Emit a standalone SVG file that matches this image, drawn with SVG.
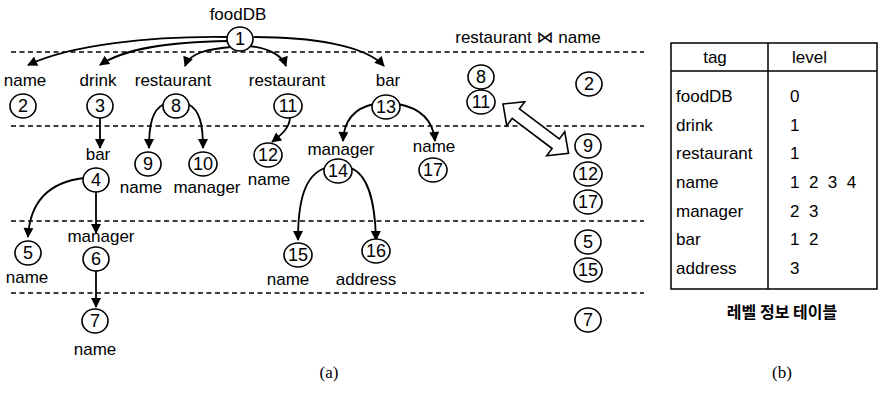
<svg xmlns="http://www.w3.org/2000/svg" width="879" height="394" viewBox="0 0 879 394">
  <style>
    text { font-family: "Liberation Sans", "DejaVu Sans", Arial, sans-serif; font-size: 17px; fill: #000; }
    .c { text-anchor: middle; }
    .node ellipse { fill: #fff; stroke: #000; stroke-width: 1.6; }
    .num { text-anchor: middle; dominant-baseline: central; font-size: 18px; }
    .edge { fill: none; stroke: #000; stroke-width: 1.8; marker-end: url(#head); }
    .level { stroke: #000; stroke-width: 1.5; stroke-dasharray: 5 3.5; }
    .tbl { fill: none; stroke: #000; stroke-width: 1.5; }
    .cap { font-family: "Liberation Serif", "DejaVu Serif", serif; font-size: 17px; text-anchor: middle; }
    .kr { font-family: "Noto Sans CJK KR", "Noto Sans CJK SC", sans-serif; font-size: 16px; font-weight: bold; text-anchor: middle; }
  </style>
  <defs>
    <marker id="head" viewBox="0 0 10 10" refX="9" refY="5" markerWidth="11" markerHeight="10" markerUnits="userSpaceOnUse" orient="auto">
      <path d="M0,0 L10,5 L0,10 z" fill="#000"/>
    </marker>
  </defs>

  <rect width="879" height="394" fill="#fff"/>

  <!-- level separators -->
  <g id="levels">
    <line class="level" x1="11" y1="52" x2="644" y2="52"/>
    <line class="level" x1="11" y1="126" x2="644" y2="126"/>
    <line class="level" x1="11" y1="221" x2="644" y2="221"/>
    <line class="level" x1="11" y1="293" x2="644" y2="293"/>
  </g>

  <!-- parent-child connectors -->
  <g id="connectors">
    <path class="edge" d="M227 37 C150 36 70 45 28 65"/>
    <path class="edge" d="M228 41 C170 42 125 48 100 65"/>
    <path class="edge" d="M231 47 C210 49 190 52 185 66"/>
    <path class="edge" d="M249 46 C268 48 282 55 286 66"/>
    <path class="edge" d="M254 37 C310 37 365 45 384 66"/>
    <path class="edge" d="M100 118 L100 148"/>
    <path class="edge" d="M164 104 C152 110 149 125 149 148"/>
    <path class="edge" d="M188 104 C200 110 203 125 203 148"/>
    <path class="edge" d="M290 117 C290 128 281 135 272 142"/>
    <path class="edge" d="M374 104 C355 108 344 120 343 141"/>
    <path class="edge" d="M398 104 C420 108 433 120 435 141"/>
    <path class="edge" d="M84 178 C50 182 30 200 28 237"/>
    <path class="edge" d="M96 192 L96 233"/>
    <path class="edge" d="M325 168 C305 175 298 200 298 240"/>
    <path class="edge" d="M351 168 C368 175 375 200 376 240"/>
    <path class="edge" d="M96 271 L96 307"/>
  </g>

  <!-- tree nodes -->
  <g id="n1" class="node"><text class="c" x="238" y="20">foodDB</text><ellipse cx="240" cy="39" rx="13" ry="12"/><text class="num" x="240" y="39">1</text></g>
  <g id="n2" class="node"><text class="c" x="25" y="86">name</text><ellipse cx="23" cy="106" rx="13" ry="12"/><text class="num" x="23" y="106">2</text></g>
  <g id="n3" class="node"><text class="c" x="98" y="86">drink</text><ellipse cx="100" cy="106" rx="13" ry="12"/><text class="num" x="100" y="106">3</text></g>
  <g id="n8" class="node"><text class="c" x="173" y="86">restaurant</text><ellipse cx="176" cy="106" rx="13" ry="12"/><text class="num" x="176" y="106">8</text></g>
  <g id="n11" class="node"><text class="c" x="287" y="86">restaurant</text><ellipse cx="288" cy="106" rx="14" ry="12"/><text class="num" x="288" y="106">11</text></g>
  <g id="n13" class="node"><text class="c" x="388" y="86">bar</text><ellipse cx="386" cy="107" rx="14" ry="12"/><text class="num" x="386" y="107">13</text></g>
  <g id="n4" class="node"><text class="c" x="98" y="160">bar</text><ellipse cx="96" cy="180" rx="13" ry="12"/><text class="num" x="96" y="180">4</text></g>
  <g id="n9" class="node"><ellipse cx="148" cy="164" rx="13" ry="12"/><text class="num" x="148" y="164">9</text><text class="c" x="141" y="193">name</text></g>
  <g id="n10" class="node"><ellipse cx="203" cy="164" rx="14" ry="12"/><text class="num" x="203" y="164">10</text><text class="c" x="207" y="193">manager</text></g>
  <g id="n12" class="node"><ellipse cx="268" cy="155" rx="14" ry="12"/><text class="num" x="268" y="155">12</text><text class="c" x="269" y="185">name</text></g>
  <g id="n14" class="node"><text class="c" x="341" y="155">manager</text><ellipse cx="338" cy="171" rx="14" ry="12"/><text class="num" x="338" y="171">14</text></g>
  <g id="n17" class="node"><text class="c" x="434" y="152">name</text><ellipse cx="433" cy="170" rx="14" ry="12"/><text class="num" x="433" y="170">17</text></g>
  <g id="n5" class="node"><ellipse cx="28" cy="253" rx="13" ry="12"/><text class="num" x="28" y="253">5</text><text class="c" x="27" y="283">name</text></g>
  <g id="n6" class="node"><text class="c" x="101" y="242">manager</text><ellipse cx="96" cy="259" rx="13" ry="12"/><text class="num" x="96" y="259">6</text></g>
  <g id="n15" class="node"><ellipse cx="298" cy="255" rx="14" ry="12"/><text class="num" x="298" y="255">15</text><text class="c" x="288" y="285">name</text></g>
  <g id="n16" class="node"><ellipse cx="376" cy="251" rx="14" ry="12"/><text class="num" x="376" y="251">16</text><text class="c" x="366" y="285">address</text></g>
  <g id="n7" class="node"><ellipse cx="95" cy="321" rx="13" ry="12"/><text class="num" x="95" y="321">7</text><text class="c" x="95" y="355">name</text></g>

  <!-- join result, grouped by level -->
  <g id="join" class="node">
    <text class="c" x="528" y="43">restaurant ⋈ name</text>
    <ellipse cx="481" cy="77" rx="13" ry="12"/><text class="num" x="481" y="77">8</text>
    <ellipse cx="481" cy="102" rx="14" ry="12"/><text class="num" x="481" y="102">11</text>
    <ellipse cx="589" cy="84" rx="13" ry="12"/><text class="num" x="589" y="84">2</text>
    <ellipse cx="588" cy="146" rx="13" ry="12"/><text class="num" x="588" y="146">9</text>
    <ellipse cx="588" cy="174" rx="14" ry="12"/><text class="num" x="588" y="174">12</text>
    <ellipse cx="588" cy="202" rx="14" ry="12"/><text class="num" x="588" y="202">17</text>
    <ellipse cx="588" cy="242" rx="13" ry="12"/><text class="num" x="588" y="242">5</text>
    <ellipse cx="588" cy="270" rx="14" ry="12"/><text class="num" x="588" y="270">15</text>
    <ellipse cx="588" cy="320" rx="13" ry="12"/><text class="num" x="588" y="320">7</text>
  </g>

  <!-- hollow double-headed arrow between the join inputs and output -->
  <g id="link">
    <polygon transform="translate(503 104) rotate(37)" points="0,0 16,-15 16,-6 66,-6 66,-15 82,0 66,15 66,6 16,6 16,15" fill="#fff" stroke="#000" stroke-width="1.6" stroke-linejoin="miter"/>
  </g>

  <text class="cap" x="329" y="378">(a)</text>

  <!-- level information table -->
  <g id="table">
    <rect class="tbl" x="671" y="43" width="206" height="246"/>
    <line class="tbl" x1="671" y1="71" x2="877" y2="71"/>
    <line class="tbl" x1="768" y1="43" x2="768" y2="289"/>
    <text class="c" x="715" y="63">tag</text>
    <text x="792" y="63">level</text>
    <text x="676" y="102">foodDB</text><text x="790" y="102">0</text>
    <text x="676" y="131">drink</text><text x="790" y="131">1</text>
    <text x="676" y="159">restaurant</text><text x="790" y="159">1</text>
    <text x="676" y="188">name</text><text x="790" y="188" xml:space="preserve">1  2  3  4</text>
    <text x="676" y="217">manager</text><text x="790" y="217" xml:space="preserve">2  3</text>
    <text x="676" y="245">bar</text><text x="790" y="245" xml:space="preserve">1  2</text>
    <text x="676" y="274">address</text><text x="790" y="274">3</text>
  </g>
  <text class="kr" x="782" y="318">레벨 정보 테이블</text>
  <text class="cap" x="782" y="378">(b)</text>
</svg>
